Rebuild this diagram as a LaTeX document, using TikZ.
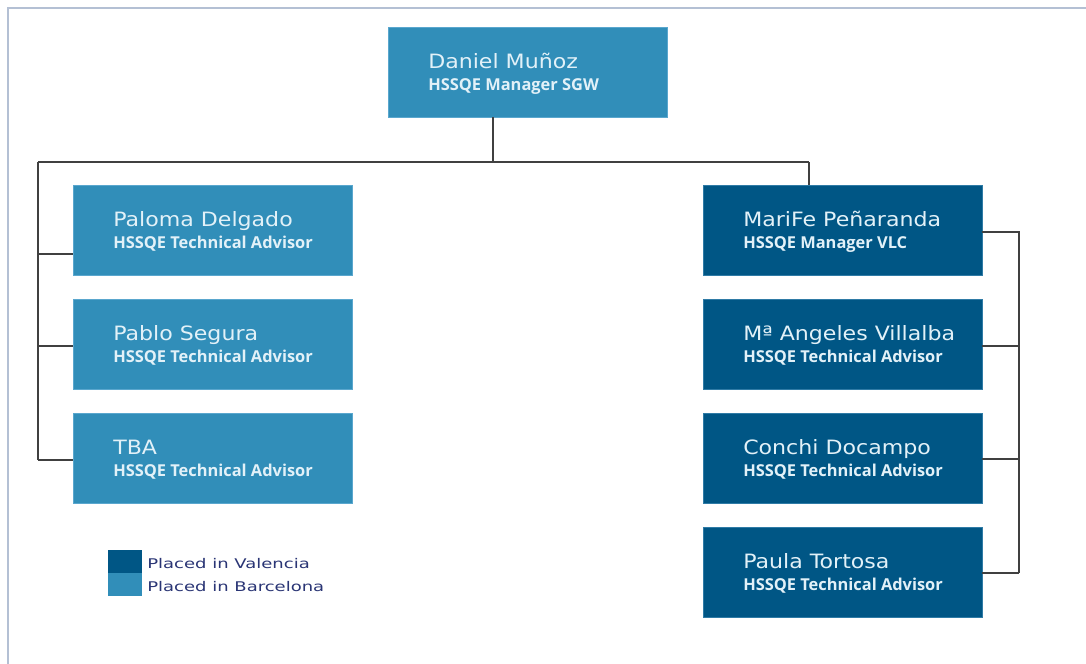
\documentclass[tikz,border=0pt]{standalone}
\usepackage{fontspec}
\setmainfont{DejaVu Sans}
\newfontfamily\namefont[FakeStretch=1.12]{DejaVu Sans}
\newfontfamily\subfont{Open Sans}
\newfontfamily\legfont[FakeStretch=1.35]{DejaVu Sans}
\definecolor{lightbox}{HTML}{318EB9}
\definecolor{lightedge}{HTML}{5AA7CE}
\definecolor{darkbox}{HTML}{005685}
\definecolor{darkedge}{HTML}{2F7BA6}
\definecolor{boxtext}{HTML}{E2F1F8}
\definecolor{legtext}{HTML}{2A3575}
\definecolor{framecol}{HTML}{B4C0D4}
\definecolor{linecol}{HTML}{404040}
\tikzset{
  x=0.75pt, y=-0.75pt,
  box/.style={rectangle, inner sep=0pt, outer sep=0pt, minimum width=209.25pt, minimum height=67.5pt, line width=0.75pt},
  lbox/.style={box, fill=lightbox, draw=lightedge},
  dbox/.style={box, fill=darkbox, draw=darkedge},
  nametxt/.style={anchor=base west, inner sep=0pt, text=boxtext, font=\namefont\fontsize{14.8}{16}\selectfont},
  subtxt/.style={anchor=base west, inner sep=0pt, text=boxtext, font=\subfont\bfseries\fontsize{12.3}{14}\selectfont},
  legtxt/.style={anchor=base west, inner sep=0pt, text=legtext, font=\legfont\fontsize{10}{12}\selectfont},
  conn/.style={draw=linecol, line width=1pt},
}
\newcommand{\personbox}[5]{%
  \node[#1] (#2) at #3 {};
  \node[nametxt] (#2-n) at ([shift={(40,41)}]#2.north west) {#4};
  \node[subtxt] (#2-s) at ([shift={(40,63)}]#2.north west) {#5};
}
\begin{document}
\begin{tikzpicture}
\useasboundingbox (0,0) rectangle (1086,664);
\fill[white] (0,0) rectangle (1086,664);
\draw[framecol, line width=1.3pt] (8,664) -- (8,8) -- (1086,8);

% boxes
\personbox{lbox}{dm}{(527.5,72)}{Daniel Muñoz}{HSSQE Manager SGW}
\personbox{lbox}{pd}{(212.5,230)}{Paloma Delgado}{HSSQE Technical Advisor}
\personbox{lbox}{ps}{(212.5,344)}{Pablo Segura}{HSSQE Technical Advisor}
\personbox{lbox}{tba}{(212.5,458)}{TBA}{HSSQE Technical Advisor}
\personbox{dbox}{mf}{(842.5,230)}{MariFe Peñaranda}{HSSQE Manager VLC}
\personbox{dbox}{ma}{(842.5,344)}{Mª Angeles Villalba}{HSSQE Technical Advisor}
\personbox{dbox}{cd}{(842.5,458)}{Conchi Docampo}{HSSQE Technical Advisor}
\personbox{dbox}{pt}{(842.5,572)}{Paula Tortosa}{HSSQE Technical Advisor}

% connectors
\coordinate (lt) at (38,162);
\coordinate (rt) at (809,162);
\coordinate (rv) at (1019,232);
\draw[conn] (dm.south -| 493,0) -- (493,162);
\draw[conn] (lt) -- (rt);
\draw[conn] (rt) -- (rt |- mf.north);
\draw[conn] (lt) -- (38,460);
\draw[conn] (38,254) -- (pd.west |- 0,254);
\draw[conn] (38,346) -- (ps.west |- 0,346);
\draw[conn] (38,460) -- (tba.west |- 0,460);
\draw[conn] (mf.east |- 0,232) -- (rv) -- (1019,573);
\draw[conn] (1019,346) -- (ma.east |- 0,346);
\draw[conn] (1019,459) -- (cd.east |- 0,459);
\draw[conn] (1019,573) -- (pt.east |- 0,573);

% legend
\node[rectangle, fill=darkbox, inner sep=0pt, minimum width=25.5pt, minimum height=17.25pt, anchor=north west] (lv) at (108,550) {};
\node[rectangle, fill=lightbox, inner sep=0pt, minimum width=25.5pt, minimum height=17.25pt, anchor=north west] (lb) at (108,573) {};
\node[legtxt] (lvt) at (147,568) {Placed in Valencia};
\node[legtxt] (lbt) at (147,591) {Placed in Barcelona};
\end{tikzpicture}
\end{document}
